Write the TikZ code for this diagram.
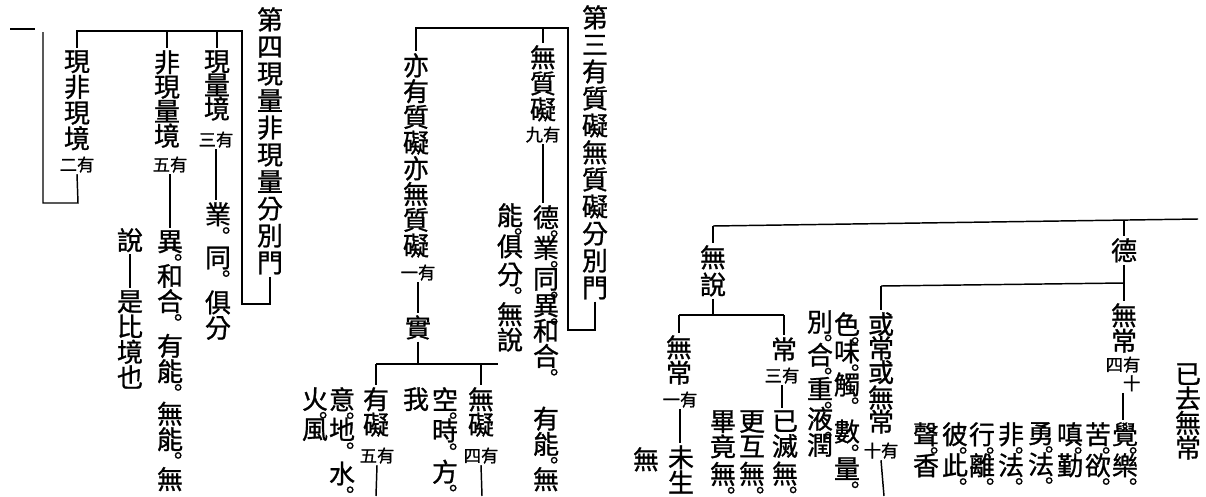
\documentclass[tikz,border=0pt]{standalone}
\usepackage{fontspec}
\newfontfamily\tc{Noto Sans CJK TC}[FakeBold=1]
\newfontfamily\jpf{Noto Sans CJK JP}[FakeBold=1]
\newcommand\quan{\rlap{\smash{\kern-.34em\raisebox{-.32em}{\jpf\fontsize{16}{16}\selectfont ｡}}}}
\newcommand\zi[1]{\tc\fontsize{19.5}{#1}\selectfont}

\begin{document}
\begin{tikzpicture}[x=0.75pt,y=0.75pt,yscale=-1,xscale=1,
  col/.style={font=\zi{19},align=center,inner sep=1.5pt,anchor=north},
  zhu/.style={font=\tc\fontsize{13}{14}\selectfont,inner sep=1pt,anchor=north},
  xian/.style={line width=1.1pt}]
\useasboundingbox (0,0) rectangle (1206,496);

%%%% 第四現量非現量分別門
% Text Node
\node (t4) [col,font=\zi{20.25}] at (270,5) {第\\四\\現\\量\\非\\現\\量\\分\\別\\門};
% Text Node
\node (a1) [col,font=\zi{17.8}] at (217,48) {現\\量\\境};
% Text Node
\node (a1z) [zhu] at (216,130) {三有};
% Text Node
\node (a1x) [col] at (218,200) {業\quan\\[13.3pt]同\quan\\[14.8pt]俱\\分};
% Text Node
\node (a2) [col,font=\zi{18.4}] at (167,48) {非\\現\\量\\境};
% Text Node
\node (a2z) [zhu] at (170,155) {五有};
% Text Node
\node (a2x) [col] at (170,228) {異\quan\\[7pt]和\\合\quan\\[14.5pt]有\\能\quan\\[13pt]無\\能\quan\\[11pt]無};
% Text Node
\node (a2y) [col] at (130,226) {說};
% Text Node
\node (a2w) [col] at (130,288) {是\\比\\境\\也};
% Text Node
\node (a3) [col,font=\zi{19.3}] at (77,48) {現\\非\\現\\境};
% Text Node
\node (a3z) [zhu] at (77,155) {二有};

\coordinate (p4a) at (77,31);
\coordinate (p4b) at (242,31);
\coordinate (p4c) at (242,304);
\coordinate (p4d) at (t4.south |- p4c);
\coordinate (p4e) at (78,203);
\coordinate (p4f) at (43,203);
\coordinate (p4g) at (43,32);
\coordinate (p4h) at (10,29);
\coordinate (p4i) at (35,29);
%Shape: Bracket
\draw [xian] (t4.south) -- (p4d) -- (p4c) -- (p4b) -- (p4a) -- (a3.north);
\draw [xian] (a1.north |- p4a) -- (a1.north);
\draw [xian] (a2.north |- p4a) -- (a2.north);
\draw [xian] (a1z.south) -- (a1z.south |- a1x.north);
\draw [xian] (a2z.south) -- (a2z.south |- a2x.north);
\draw [xian] (a2y.south) -- (a2w.north);
\draw [xian] (a3z.south) -- (p4e) -- (p4f) -- (p4g);
\draw [xian] (p4h) -- (p4i);

%%%% 第三有質礙無質礙分別門
% Text Node
\node (t3) [col,font=\zi{20.25}] at (595,3) {第\\三\\有\\質\\礙\\無\\質\\礙\\分\\別\\門};
% Text Node
\node (b1) [col,font=\zi{19.5}] at (543,43) {無\\質\\礙};
% Text Node
\node (b1z) [zhu] at (543,125) {九有};
% Text Node
\node (b1x) [col] at (546,203) {德\quan\\[4pt]業\quan\\[4pt]同\quan\\[1pt]異\quan\\和\\合\quan\\[28pt]有\\能\quan\\[7.5pt]無};
% Text Node
\node (b2) [col] at (510,201) {能\quan\\[4.3pt]俱\\[2pt]分\quan\\[11pt]無\\說};
% Text Node
\node (b3) [col,font=\zi{19.3}] at (416,51) {亦\\有\\質\\礙\\亦\\無\\質\\礙};
% Text Node
\node (b3z) [zhu] at (418,263) {一有};
% Text Node
\node (b4) [col] at (418,313) {實};
% Text Node
\node (b5) [col,font=\zi{17.5}] at (376,385) {有\\礙};
% Text Node
\node (b5z) [zhu] at (377,446) {五有};
% Text Node
\node (b6) [col,font=\zi{17.5}] at (481,385) {無\\礙};
% Text Node
\node (b6z) [zhu] at (481,446) {四有};
% Text Node
\node (b7) [col] at (445,385) {空\quan\\[4.3pt]時\quan\\[12pt]方\quan};
% Text Node
\node (b8) [col] at (416,385) {我};
% Text Node
\node (b9) [col] at (342,385) {意\quan\\[3.5pt]地\quan\\[14pt]水\quan};
% Text Node
\node (b10) [col] at (315,385) {火\quan\\[3.5pt]風};

\coordinate (p3a) at (b3.north |- 0,28);
\coordinate (p3b) at (568,28);
\coordinate (p3c) at (568,330);
\coordinate (p3d) at (t3.south |- p3c);
\coordinate (p3e) at (376,364);
\coordinate (p3f) at (498,364);
\coordinate (p3g) at (376,496);
\coordinate (p3h) at (482,496);
%Shape: Bracket
\draw [xian] (t3.south) -- (p3d) -- (p3c) -- (p3b) -- (p3a) -- (b3.north);
\draw [xian] (b1.north |- p3a) -- (b1.north);
\draw [xian] (b1z.south) -- (b1z.south |- b1x.north);
\draw [xian] (b3z.south) -- (b4.north);
\draw [xian] (b4.south) -- (b4.south |- p3e);
\draw [xian] (p3e) -- (p3f);
\draw [xian] (p3e) -- (b5.north);
\draw [xian] (b6.north |- p3e) -- (b6.north);
\draw [xian] (b5z.south) -- (p3g);
\draw [xian] (b6z.south) -- (p3h);

%%%% 德 / 無說
% Text Node
\node (c1) [col,font=\zi{20.3}] at (713,243) {無\\說};
% Text Node
\node (c2) [col] at (679,333) {無\\常};
% Text Node
\node (c2z) [zhu] at (680,390) {一有};
% Text Node
\node (c3) [col,font=\zi{17.5}] at (681,443) {未\\生};
% Text Node
\node (c4) [col] at (646,445) {無};
% Text Node
\node (c5) [col] at (784,335) {常};
% Text Node
\node (c5z) [zhu] at (782,366) {三有};
% Text Node
\node (c6) [col] at (785,408) {已\\滅\\[1.8pt]無\quan};
% Text Node
\node (c7) [col] at (752,408) {更\\互\\[1.8pt]無\quan};
% Text Node
\node (c8) [col] at (723,408) {畢\\竟\\[1.8pt]無\quan};
% Text Node
\node (c9) [col,font=\zi{18}] at (881,310) {或\\常\\或\\無\\常};
% Text Node
\node (c9z) [zhu] at (881,441) {十有};
% Text Node
\node (c10) [col] at (847,310) {色\quan\\[1.3pt]味\quan\\[5.8pt]觸\quan\\[16.3pt]數\quan\\[8.8pt]量\quan};
% Text Node
\node (c11) [col] at (820,308) {別\quan\\[5.8pt]合\quan\\[6.5pt]重\quan\\[3.5pt]液\quan\\[.5pt]潤};
% Text Node
\node (c12) [col] at (1124,236) {德};
% Text Node
\node (c13) [col] at (1124,301) {無\\常};
% Text Node
\node (c13z) [zhu,align=left] at (1123,355) {四有\\\hphantom{四}十};
% Text Node
\node (c14) [col] at (1125,420) {覺\quan\\[4.3pt]樂\quan};
% Text Node
\node (c15) [col] at (1098,420) {苦\quan\\[4.3pt]欲\quan};
% Text Node
\node (c16) [col] at (1070,420) {嗔\quan\\[4.3pt]勤};
% Text Node
\node (c17) [col] at (1041,420) {勇\quan\\[4.3pt]法\quan};
% Text Node
\node (c18) [col] at (1011,420) {非\quan\\[4.3pt]法\quan};
% Text Node
\node (c19) [col] at (982,420) {行\quan\\[4.3pt]離\quan};
% Text Node
\node (c20) [col] at (955,420) {彼\quan\\[4.3pt]此\quan};
% Text Node
\node (c21) [col] at (926,420) {聲\quan\\[4.3pt]香};
% Text Node
\node (c22) [col,font=\zi{18.5}] at (1188,361) {已\\去\\無\\常};

\coordinate (p1a) at (713,226);
\coordinate (p1b) at (1198,219);
\coordinate (p1c) at (679,315);
\coordinate (p1d) at (784,315);
\coordinate (p1e) at (881,286);
\coordinate (p1f) at (c12.south |- 0,283);
\coordinate (p1g) at (884,496);
\coordinate (p1h) at (1124,221);
%Shape: Bracket
\draw [xian] (p1a) -- (p1b);
\draw [xian] (p1a) -- (c1.north);
\draw [xian] (p1h) -- (c12.north);
\draw [xian] (c1.south) -- (c1.south |- p1c);
\draw [xian] (p1c) -- (p1d);
\draw [xian] (p1c) -- (c2.north);
\draw [xian] (p1d) -- (c5.north);
\draw [xian] (c2z.south) -- (c2z.south |- c3.north);
\draw [xian] (c5z.south) -- (c5z.south |- c6.north);
\draw [xian] (c12.south) -- (c13.north);
\draw [xian] (p1e) -- (p1f);
\draw [xian] (p1e) -- (c9.north);
\draw [xian] (c9z.south) -- (p1g);
\draw [xian] (c13z.south) -- (c13z.south |- c14.north);

\end{tikzpicture}
\end{document}
